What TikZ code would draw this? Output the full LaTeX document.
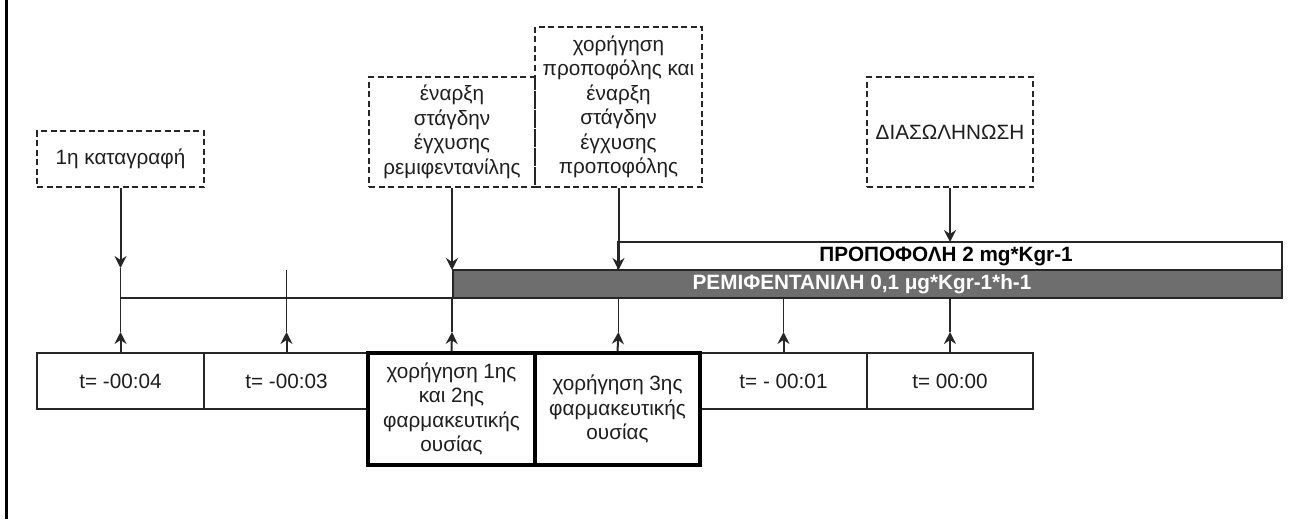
\documentclass[tikz,border=0pt]{standalone}
\usepackage{fontspec}
\setmainfont{Liberation Sans}
\usetikzlibrary{arrows.meta}
\definecolor{ink}{HTML}{1E1E1E}
\definecolor{lin}{HTML}{262626}
\definecolor{barg}{HTML}{6E6E6E}
\tikzset{
  txt/.style={font=\fontsize{20.7}{24.5}\selectfont, text=ink, align=center, inner sep=0pt},
  dbox/.style={txt, draw=lin, line width=2pt, dash pattern=on 6pt off 3.5pt},
  tbox/.style={txt, draw=lin, line width=1.9pt, minimum height=56pt},
  kbox/.style={txt, draw=black, line width=3.4pt, minimum height=112pt},
  arr/.style={draw=lin, line width=2pt, -{Stealth[length=12pt,width=12pt,inset=4pt]}},
  ln/.style={draw=lin, line width=1.9pt},
  bartxt/.style={font=\fontsize{20.7}{24.5}\selectfont\bfseries, inner sep=0pt}
}
\begin{document}
\begin{tikzpicture}[x=1pt,y=-1pt]
\useasboundingbox (0,0) rectangle (1289,519);
\fill[white] (0,0) rectangle (1289,519);
% frame line on the left
\coordinate (fa) at (6.5,0);
\coordinate (fb) at (6.5,519);
\draw[line width=2.8pt, black] (fa) -- (fb);

% dashed event boxes
\node[dbox, minimum width=167pt, minimum height=56pt] (d1) at (120.5,159) {1η καταγραφή};
\node[dbox, minimum width=166pt, minimum height=110pt] (d2) at (452,132) {έναρξη\\στάγδην\\έγχυσης\\ρεμιφεντανίλης};
\node[dbox, minimum width=167pt, minimum height=160pt] (d3) at (618.5,107) {χορήγηση\\προποφόλης και\\έναρξη\\στάγδην\\έγχυσης\\προποφόλης};
\node[dbox, minimum width=166pt, minimum height=110pt] (d4) at (950,132) {ΔΙΑΣΩΛΗΝΩΣΗ};

% bars
\node[draw=lin, line width=1.8pt, fill=white, minimum width=664pt, minimum height=28pt, inner sep=0pt] (pb) at (950,256) {};
\node[bartxt, text=black] (pt) at (946,256) {ΠΡΟΠΟΦΟΛΗ 2 mg*Kgr-1};
\node[draw=lin, line width=1.8pt, fill=barg, minimum width=829pt, minimum height=28pt, inner sep=0pt] (rb) at (867.5,284) {};
\node[bartxt, text=white] (rt) at (862,284) {ΡΕΜΙΦΕΝΤΑΝΙΛΗ 0,1 μg*Kgr-1*h-1};

% bottom boxes
\node[tbox, minimum width=167pt] (b1) at (120.5,381) {t= -00:04};
\node[tbox, minimum width=165pt] (b2) at (286.5,381) {t= -00:03};
\node[tbox, minimum width=167pt] (b5) at (783.5,381) {t= - 00:01};
\node[tbox, minimum width=166pt] (b6) at (950,381) {t= 00:00};
\node[kbox, minimum width=167pt] (b3) at (451.5,409) {χορήγηση 1ης\\και 2ης\\φαρμακευτικής\\ουσίας};
\node[kbox, minimum width=165pt] (b4) at (617.5,409) {χορήγηση 3ης\\φαρμακευτικής\\ουσίας};

% time line coordinates
\coordinate (l1) at (120.5,298);
\coordinate (l2) at (286.5,298);
\coordinate (l3) at (452,298);
\coordinate (l4) at (618.5,298);
\coordinate (l5) at (783.5,298);
\coordinate (l6) at (950,298);
\coordinate (k1) at (120.5,268);
\coordinate (k2) at (286.5,270);
\coordinate (k3) at (452,270);
\coordinate (k4) at (618.5,270);
\coordinate (k6) at (950,242);
\coordinate (a1) at (120.5,332);
\coordinate (a2) at (286.5,332);
\coordinate (a3) at (452,332);
\coordinate (a4) at (618.5,332);
\coordinate (a5) at (783.5,332);
\coordinate (a6) at (950,332);

% horizontal timeline
\draw[ln] (l1) -- (l3);
% ticks
\draw[ln] (k1) -- (l1);
\draw[ln] (k2) -- (l2);

% arrows from event boxes
\draw[arr] (d1.south) -- (k1);
\draw[arr] (d2.south) -- (k3);
\draw[arr] (d3.south) -- (k4);
\draw[arr] (d4.south) -- (k6);

% arrows from bottom boxes
\draw[ln] (a1) -- (l1); \draw[arr] (b1.north) -- (a1);
\draw[ln] (a2) -- (l2); \draw[arr] (b2.north) -- (a2);
\draw[ln] (a3) -- (l3); \draw[arr] (b3.north) -- (a3);
\draw[ln] (a4) -- (l4); \draw[arr] (b4.north) -- (a4);
\draw[ln] (a5) -- (l5); \draw[arr] (b5.north) -- (a5);
\draw[ln] (a6) -- (l6); \draw[arr] (b6.north) -- (a6);
\end{tikzpicture}
\end{document}
